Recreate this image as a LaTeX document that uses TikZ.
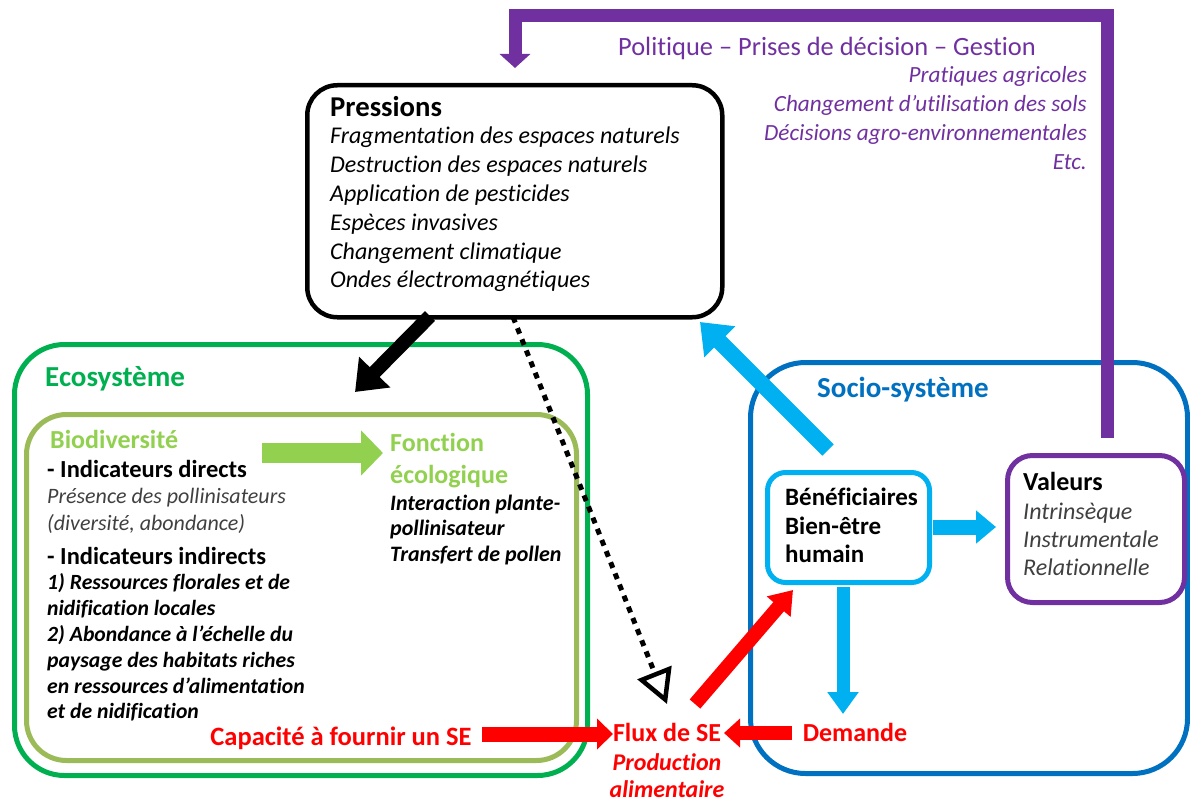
\documentclass[tikz,border=0pt]{standalone}
\usepackage{fontspec}
\setmainfont{Carlito}[Ligatures={TeX,NoCommon}]
\usetikzlibrary{arrows.meta}
\frenchspacing
\definecolor{ecogreen}{HTML}{00B050}
\definecolor{lightgreen}{HTML}{92D050}
\definecolor{olivegreen}{HTML}{9BBB59}
\definecolor{sociob}{HTML}{0070C0}
\definecolor{skyb}{HTML}{00B0F0}
\definecolor{purp}{HTML}{7030A0}
\definecolor{redse}{HTML}{FF0000}
\definecolor{greytxt}{HTML}{404040}
\newcommand{\fsz}[2]{\fontsize{#1}{#2}\selectfont}
\newcommand{\natsp}{\spaceskip=\fontdimen2\font\xspaceskip=\fontdimen2\font\relax}
\newcommand{\smallbi}[1]{{\bfseries\itshape\fsz{21.7}{25.8}\natsp #1}}
\newcommand{\smallit}[1]{{\color{greytxt}\itshape\fsz{22}{26}\natsp #1}}
\tikzset{
  framebox/.style={draw, inner sep=0pt, anchor=north west},
  txt/.style={inner sep=0pt, anchor=base west, align=left, text width=420pt},
  rtxt/.style={inner sep=0pt, anchor=base east, align=right, text width=420pt},
  ctxt/.style={inner sep=0pt, anchor=base, align=center, text width=200pt},
  blockarrow/.style={line width=#1, line cap=butt},
}
\begin{document}
\begin{tikzpicture}[x=1pt,y=-1pt]
\useasboundingbox (0,0) rectangle (1190,802);

% ---------- frames ----------
\node[framebox, draw=ecogreen, line width=5pt, rounded corners=50pt, minimum width=573pt, minimum height=431pt] (eco) at (12,342) {};
\node[framebox, draw=olivegreen, line width=5pt, rounded corners=40pt, minimum width=550pt, minimum height=346pt] (bio) at (24,412) {};
\node[framebox, draw=sociob, line width=5pt, rounded corners=55pt, minimum width=437pt, minimum height=411pt] (socio) at (748,360) {};
\node[framebox, draw=black, line width=4.5pt, rounded corners=30pt, minimum width=415pt, minimum height=232pt] (pressions) at (305,83) {};
\node[framebox, draw=skyb, line width=5pt, rounded corners=18pt, minimum width=162pt, minimum height=110pt] (benef) at (765,470) {};
\node[framebox, draw=purp, line width=5pt, rounded corners=25pt, minimum width=177pt, minimum height=147pt] (valeurs) at (1005,453) {};

% ---------- connector end points ----------
\coordinate (pressOutA) at (430,316);
\coordinate (ecoIn) at (355,392);
\coordinate (pressOutB) at (513,317);
\coordinate (fluxTop) at (667,704);
\coordinate (benefOut) at (828,450);
\coordinate (pressIn) at (700,322);
\coordinate (valTop) at (1107,438);
\coordinate (polCorner) at (1107,16);
\coordinate (polLeft) at (515,16);
\coordinate (pressTop) at (515,68);
\coordinate (bioOut) at (262,453);
\coordinate (fonctIn) at (383,453);
\coordinate (capOut) at (482,734);
\coordinate (fluxLeft) at (613,734);
\coordinate (demOut) at (792,733);
\coordinate (fluxRight) at (724,733);
\coordinate (fluxOut) at (695,704);
\coordinate (benefIn) at (793,590);
\coordinate (benefBottom) at (843,587);
\coordinate (demTop) at (843,714);
\coordinate (benefRight) at (933,527);
\coordinate (valLeft) at (996,527);

% ---------- connectors ----------
\draw[purp, blockarrow=13pt, line join=miter, -{Triangle[length=14pt,width=30pt]}]
  (valTop) -- (polCorner) -- (polLeft) -- (pressTop);
\draw[black, blockarrow=14pt, -{Triangle[length=28pt,width=42pt]}] (pressOutA) -- (ecoIn);
\draw[black, line width=5pt, dash pattern=on 6pt off 6pt,
  -{Triangle[open,length=34pt,width=36pt,line width=4.5pt]}] (pressOutB) -- (fluxTop);
\draw[skyb, blockarrow=16pt, -{Triangle[length=28pt,width=42pt]}] (benefOut) -- (pressIn);
\draw[lightgreen, blockarrow=20pt, -{Triangle[length=22pt,width=44pt]}] (bioOut) -- (fonctIn);
\draw[redse, blockarrow=15pt, -{Triangle[length=16pt,width=30pt]}] (capOut) -- (fluxLeft);
\draw[redse, blockarrow=14pt, -{Triangle[length=16pt,width=28pt]}] (demOut) -- (fluxRight);
\draw[redse, blockarrow=14pt, -{Triangle[length=22pt,width=30pt]}] (fluxOut) -- (benefIn);
\draw[skyb, blockarrow=13pt, -{Triangle[length=22pt,width=30pt]}] (benefBottom) -- (demTop);
\draw[skyb, blockarrow=15pt, -{Triangle[length=20pt,width=32pt]}] (benefRight) -- (valLeft);

% ---------- texts ----------
\node[ctxt, text width=500pt, purp, font=\fsz{26.4}{29}] (politique) at (827,56) {\natsp Politique -- Prises de décision -- Gestion};
\node[rtxt, purp, font=\itshape\fsz{23.2}{29}] (pollist) at (1087,83)
  {\natsp Pratiques agricoles\\Changement d’utilisation des sols\\Décisions agro-environnementales\\Etc.};

\node[txt, font=\bfseries\fsz{28.7}{30}] (presstitle) at (330,117) {Pressions};
\node[txt, font=\itshape\fsz{24}{28.8}] (presslist) at (330,144)
  {\natsp Fragmentation des espaces naturels\\Destruction des espaces naturels\\Application de pesticides\\Espèces invasives\\Changement climatique\\Ondes électromagnétiques};

\node[txt, ecogreen, font=\bfseries\fsz{29}{30}] (ecotitle) at (45,386) {Ecosystème};
\node[txt, lightgreen, font=\bfseries\fsz{26}{30}] (biotitle) at (50,448) {Biodiversité};
\node[txt, font=\fsz{24.5}{26.5}] (direct) at (47,477)
  {\natsp\textbf{- Indicateurs directs}\\\smallit{Présence des pollinisateurs}\\\smallit{(diversité, abondance)}};
\node[txt, font=\fsz{24.5}{25.8}] (indirect) at (47,564)
  {\natsp\textbf{- Indicateurs indirects}\\\smallbi{1) Ressources florales et de}\\\smallbi{nidification locales}\\\smallbi{2) Abondance à l’échelle du}\\\smallbi{paysage des habitats riches}\\\smallbi{en ressources d’alimentation}\\\smallbi{et de nidification}};
\node[txt, lightgreen, font=\bfseries\fsz{26}{32}] (fonction) at (390,451) {Fonction\\écologique};
\node[txt, font=\bfseries\itshape\fsz{22}{25.5}] (interaction) at (390,510)
  {\natsp Interaction plante-\\pollinisateur\\Transfert de pollen};
\node[ctxt, text width=320pt, redse, font=\bfseries\fsz{26.5}{30}] (capacite) at (341,745) {\natsp Capacité à fournir un SE};

\node[ctxt, redse, font=\bfseries\fsz{26}{30}] (flux) at (667,741) {\natsp Flux de SE};
\node[ctxt, redse, font=\bfseries\itshape\fsz{24}{27}] (production) at (667,770) {Production\\alimentaire};
\node[ctxt, redse, font=\bfseries\fsz{26}{30}] (demande) at (855,741) {Demande};

\node[txt, sociob, font=\bfseries\fsz{29}{30}] (sociotitle) at (817,397) {Socio-système};
\node[txt, font=\bfseries\fsz{25}{28.5}] (beneftext) at (785,505.5) {Bénéficiaires\\Bien-être\\humain};
\node[txt, font=\bfseries\fsz{26}{30}] (valtitle) at (1023,490) {Valeurs};
\node[txt, greytxt, font=\itshape\fsz{24}{28}] (vallist) at (1023,519) {Intrinsèque\\Instrumentale\\Relationnelle};
\end{tikzpicture}
\end{document}
